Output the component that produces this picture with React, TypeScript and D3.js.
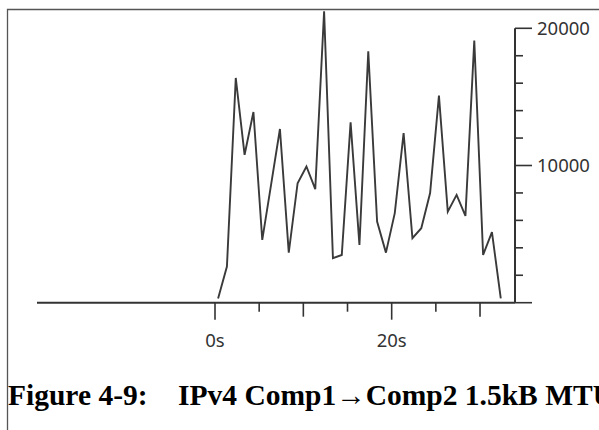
import React, { useEffect, useRef } from "react";
import * as d3 from "d3";

// throughput samples, one per second
const times = [0.35, 1.35, 2.35, 3.35, 4.35, 5.35, 6.35, 7.35, 8.35, 9.35, 10.35,
  11.35, 12.35, 13.35, 14.35, 15.35, 16.35, 17.35, 18.35, 19.35, 20.35, 21.35,
  22.35, 23.35, 24.35, 25.35, 26.35, 27.35, 28.35, 29.35, 30.35, 31.35, 32.35];
const values = [300, 2630, 16380, 10780, 13900, 4580, 8600, 12660, 3650, 8710, 9930,
  8280, 21240, 3240, 3480, 13140, 4210, 18320, 5910, 3650, 6530, 12360,
  4700, 5430, 7990, 15090, 6640, 7860, 6330, 19100, 3480, 5140, 320];

const xTicks = [0, 5, 10, 15, 20, 25, 30];
const xLabels = [0, 20];
const yTicks = [0, 2000, 4000, 6000, 8000, 10000, 12000, 14000, 16000, 18000, 20000];
const yLabels = [10000, 20000];

const caption1 = "Figure 4-9:";
const caption2 = "IPv4 Comp1\u2192Comp2 1.5kB MTU";

const W = 599, H = 430;

export default function App() {
  const ref = useRef<SVGSVGElement>(null);

  useEffect(() => {
    const svg = d3.select(ref.current);
    svg.selectAll("*").remove();

    //scales
    const x = d3.scaleLinear().domain([-20.15, 33.96]).range([37, 515]);
    const y = d3.scaleLinear().domain([0, 20000]).range([302.7, 28.3]);

    //frame
    svg.append("path")
      .attr("d", `M7.5,${H} V9.5 H${W}`)
      .attr("fill", "none")
      .attr("stroke", "#555")
      .attr("stroke-width", 1.3);

    const ink = "#333";

    //x axis
    svg.append("line")
      .attr("x1", x(-20.15)).attr("x2", x(33.96))
      .attr("y1", y(0)).attr("y2", y(0))
      .attr("stroke", ink).attr("stroke-width", 2);

    svg.selectAll(".xt").data(xTicks).enter().append("line")
      .attr("x1", d => x(d)).attr("x2", d => x(d))
      .attr("y1", y(0))
      .attr("y2", d => y(0) + (d % 20 === 0 ? 17 : d % 10 === 0 ? 14 : 9))
      .attr("stroke", ink).attr("stroke-width", 1.6);

    svg.selectAll(".xl").data(xLabels).enter().append("text")
      .attr("x", d => x(d)).attr("y", 346.7)
      .attr("text-anchor", "middle")
      .attr("font-family", "'Noto Sans', sans-serif")
      .attr("font-size", 18.5)
      .attr("fill", ink)
      .text(d => `${d}s`);

    //y axis on the right
    svg.append("line")
      .attr("x1", 515).attr("x2", 515)
      .attr("y1", y(20000)).attr("y2", y(0))
      .attr("stroke", ink).attr("stroke-width", 2);

    svg.selectAll(".yt").data(yTicks).enter().append("line")
      .attr("x1", 515)
      .attr("x2", d => 515 + (d % 10000 === 0 ? 17 : 8))
      .attr("y1", d => y(d)).attr("y2", d => y(d))
      .attr("stroke", ink).attr("stroke-width", 1.6);

    svg.selectAll(".yl").data(yLabels).enter().append("text")
      .attr("x", 537).attr("y", d => y(d))
      .attr("dy", "0.36em")
      .attr("font-family", "'Noto Sans', sans-serif")
      .attr("font-size", 18.5)
      .attr("fill", ink)
      .text(d => d);

    //series
    const line = d3.line<number>()
      .x((d, i) => x(times[i]))
      .y(d => y(d));

    svg.append("path")
      .datum(values)
      .attr("d", line)
      .attr("fill", "none")
      .attr("stroke", "#3a3a3a")
      .attr("stroke-width", 1.9)
      .attr("stroke-linejoin", "miter");

    //caption
    const cap = svg.append("g")
      .attr("font-family", "'Liberation Serif', 'Times New Roman', serif")
      .attr("font-weight", "bold")
      .attr("font-size", 29.5)
      .attr("fill", "#000");
    cap.append("text").attr("x", 8).attr("y", 405).text(caption1);
    cap.append("text").attr("x", 178).attr("y", 405).text(caption2);
  }, []);

  return (
    <svg ref={ref} width={W} height={H}
      style={{ position: "absolute", left: 0, top: 0, background: "#fff" }} />
  );
}
